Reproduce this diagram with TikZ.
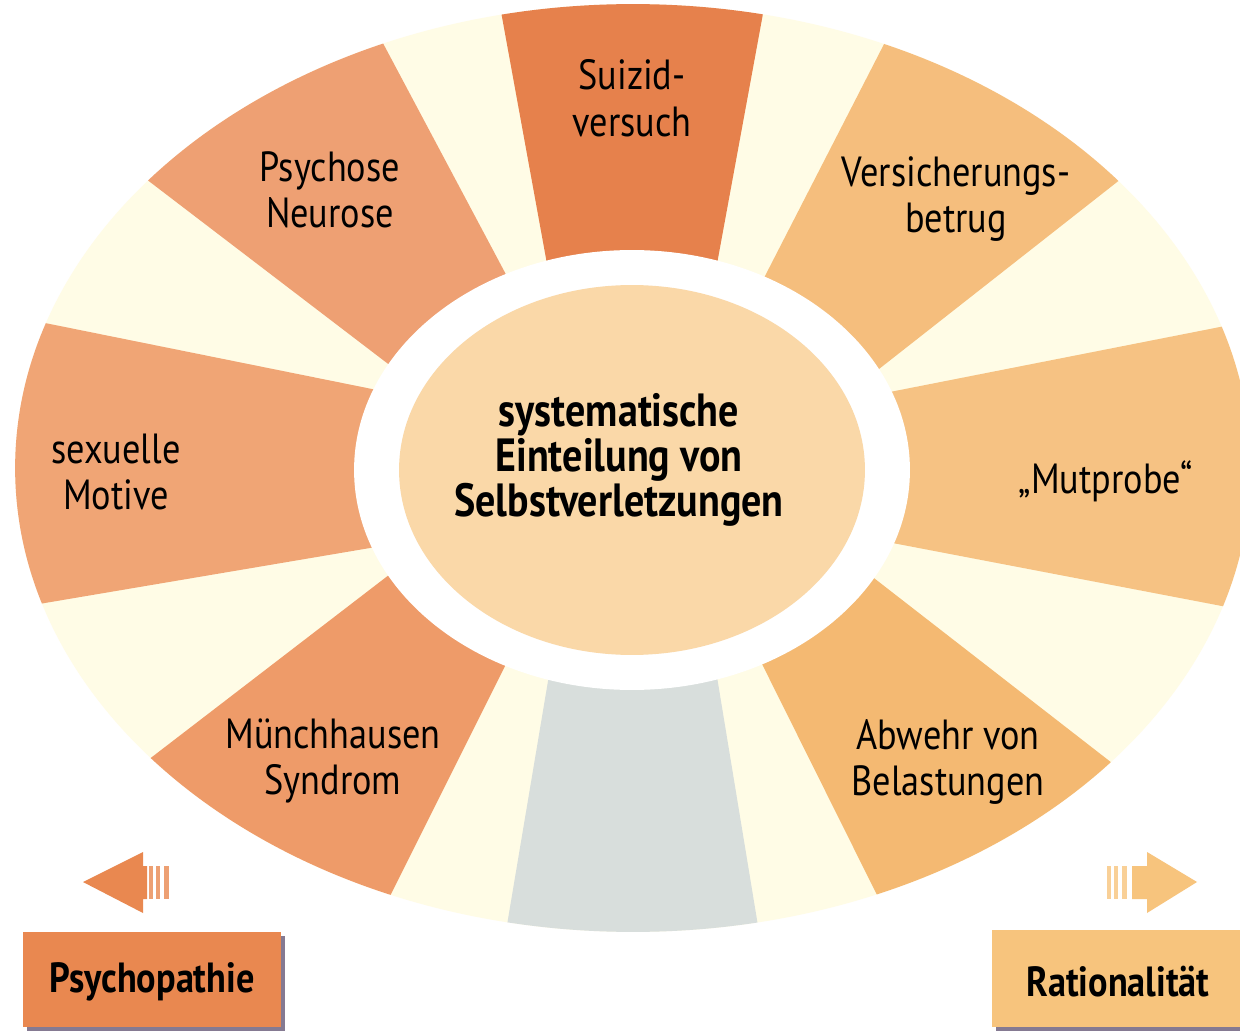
\documentclass[tikz,border=0pt]{standalone}
\usepackage{fontspec}
\setmainfont{PT Sans}[FakeStretch=0.86]
\usetikzlibrary{calc}
\definecolor{cream}{HTML}{FFFCE6}
\definecolor{suizcol}{HTML}{E6814C}
\definecolor{psycol}{HTML}{EEA073}
\definecolor{sexcol}{HTML}{F0A575}
\definecolor{muncol}{HTML}{EE9B69}
\definecolor{verscol}{HTML}{F5BE7D}
\definecolor{mutcol}{HTML}{F6C283}
\definecolor{abwcol}{HTML}{F4B972}
\definecolor{graycol}{HTML}{D8DEDC}
\definecolor{centercol}{HTML}{FAD8A8}
\definecolor{psyboxcol}{HTML}{E98850}
\definecolor{ratboxcol}{HTML}{F7C47D}
\definecolor{shadowcol}{HTML}{857A92}
\newcommand\mysegment[5]{%
  \fill[#1] ($#2!-0.3!#3$) -- ($#2!1.6!#3$) -- ($#4!1.6!#5$) -- ($#4!-0.3!#5$) -- cycle;}
\begin{document}
\begin{tikzpicture}[x=0.02cm,y=-0.02cm,
  lbl/.style={align=center, inner sep=0pt, font=\fontsize{24}{26.5}\selectfont},
  blbl/.style={align=center, inner sep=0pt, font=\fontsize{24}{25.5}\selectfont\bfseries},
  clbl/.style={align=center, inner sep=0pt, font=\fontsize{26.5}{25.5}\selectfont\bfseries}]
\clip (0,0) rectangle (1240,1033);
\fill[white] (0,0) rectangle (1240,1033);
% outer ellipse
\fill[cream] (633,468) ellipse [x radius=12.36cm, y radius=9.28cm];
\begin{scope}
  \clip (633,468) ellipse [x radius=12.36cm, y radius=9.28cm];
  \mysegment{suizcol}{(545,253)}{(502,17)}{(719,253)}{(762,19)}
  \mysegment{psycol}{(383,360)}{(150,182)}{(502,267)}{(385,47)}
  \mysegment{verscol}{(765,276)}{(881,50)}{(879,369)}{(1112,186)}
  \mysegment{sexcol}{(367,388)}{(45,323)}{(370,548)}{(45,603)}
  \mysegment{mutcol}{(900,390)}{(1220,327)}{(903,545)}{(1227,607)}
  \mysegment{muncol}{(385,578)}{(152,757)}{(502,672)}{(393,890)}
  \mysegment{abwcol}{(767,674)}{(879,899)}{(879,582)}{(1112,763)}
  \mysegment{graycol}{(547,687)}{(507,925)}{(719,689)}{(759,932)}
\end{scope}
% white ring and centre
\fill[white] (632,470) ellipse [x radius=5.56cm, y radius=4.4cm];
\fill[centercol] (632,470) ellipse [x radius=4.66cm, y radius=3.7cm];

% labels
\node[lbl] (suiz) at (632,98) {Suizid-\\versuch};
\node[lbl] (psy) at (330,190) {Psychose\\Neurose};
\node[lbl] (vers) at (956,199) {Versicherungs-\\betrug};
\node[lbl] (sex) at (116,472) {sexuelle\\Motive};
\node[lbl] (mut) at (1106,481) {„Mutprobe“};
\node[lbl] (mun) at (333,761) {Münchhausen\\Syndrom};
\node[lbl] (abw) at (948,762) {Abwehr von\\Belastungen};
\node[clbl] (center) at (619,460) {systematische\\Einteilung von\\Selbstverletzungen};

% arrows
\fill[psyboxcol] (83,882) -- (143,852) -- (143,866) -- (147,866) -- (147,899) -- (143,899) -- (143,913) -- cycle;
\fill[psyboxcol!80] (149,866) rectangle (153,899);
\fill[psyboxcol!80] (156,866) rectangle (160,899);
\fill[psyboxcol!80] (164,866) rectangle (169,899);
\coordinate (larrow) at (83,882);
\fill[ratboxcol] (1197,882) -- (1147,852) -- (1147,866) -- (1132,866) -- (1132,899) -- (1147,899) -- (1147,913) -- cycle;
\fill[ratboxcol!80] (1107,866) rectangle (1111,899);
\fill[ratboxcol!80] (1114,866) rectangle (1118,899);
\fill[ratboxcol!80] (1122,866) rectangle (1127,899);
\coordinate (rarrow) at (1197,882);

% bottom boxes
\fill[shadowcol] (27,936) rectangle (285,1031);
\fill[psyboxcol] (23,932) rectangle (281,1027);
\node[blbl] (psychopathie) at (152,982) {Psychopathie};
\fill[shadowcol] (996,934) rectangle (1244,1031);
\fill[ratboxcol] (992,930) rectangle (1244,1027);
\node[blbl] (rational) at (1118,982) {Rationalität};
\end{tikzpicture}
\end{document}
